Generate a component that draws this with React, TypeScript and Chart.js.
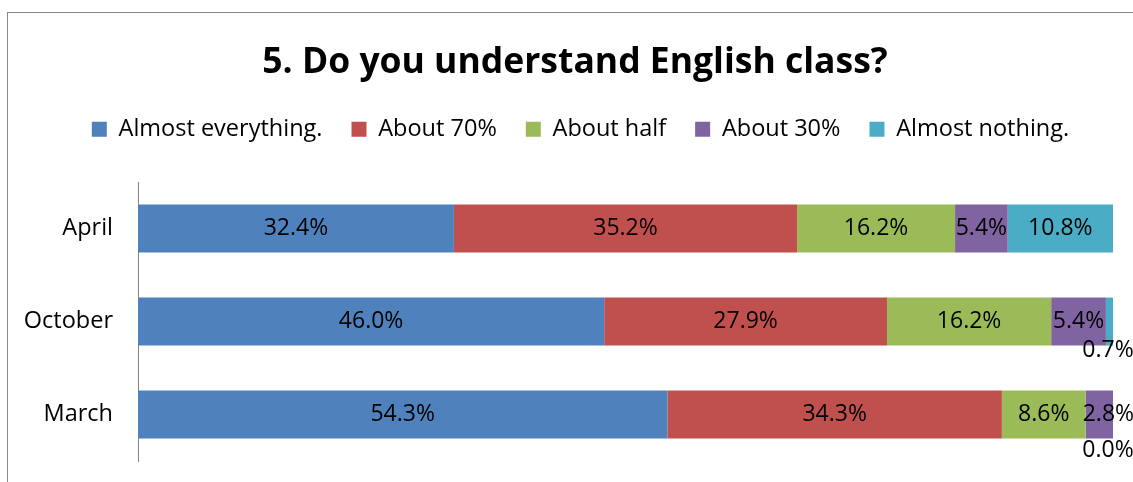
import React, { useEffect, useRef } from "react";
import { Chart, registerables } from "chart.js";

Chart.register(...registerables);

const categories = ["April", "October", "March"];
const seriesNames = ["Almost everything.", "About 70%", "About half", "About 30%", "Almost nothing."];
const almostEverything = [32.4, 46.0, 54.3];
const about70 = [35.2, 27.9, 34.3];
const aboutHalf = [16.2, 16.2, 8.6];
const about30 = [5.4, 5.4, 2.8];
const almostNothing = [10.8, 0.7, 0.0];
const seriesColors = ["#4F81BD", "#C0504D", "#9BBB59", "#8064A2", "#4BACC6"];
const titleText = "5. Do you understand English class?";

const FONT = "'Open Sans', sans-serif";
const seriesValues = [almostEverything, about70, aboutHalf, about30, almostNothing];

const rowTotals = categories.map((_, i) => seriesValues.reduce((s, arr) => s + arr[i], 0));

const labelPlugin = {
  id: "segmentLabels",
  afterDatasetsDraw(chart: any) {
    const ctx = chart.ctx;
    ctx.save();
    ctx.font = `23px ${FONT}`;
    ctx.fillStyle = "#000";
    ctx.textBaseline = "middle";
    ctx.textAlign = "center";
    chart.data.datasets.forEach((ds: any, di: number) => {
      const meta = chart.getDatasetMeta(di);
      meta.data.forEach((bar: any, i: number) => {
        const raw = seriesValues[di][i];
        const text = raw.toFixed(1) + "%";
        const { x, y, base, height } = bar.getProps(["x", "y", "base", "height"], true);
        const left = Math.min(x, base);
        const right = Math.max(x, base);
        const w = right - left;
        const tw = ctx.measureText(text).width;
        let cx = (left + right) / 2;
        let cy = y;
        if (raw < 1) {
          cx = right - 5;
          cy = y + height * (raw === 0 ? 0.75 : 0.6);
        } else if (tw > w) {
          cx = left - 3 + tw / 2;
        }
        ctx.fillText(text, cx, cy);
      });
    });
    ctx.restore();
  },
};

// centre the title and legend over the same span as the original figure
const headerPlugin = {
  id: "headerSpan",
  afterLayout(chart: any) {
    const area = chart.chartArea;
    if (chart.titleBlock) {
      chart.titleBlock.left = 37;
      chart.titleBlock.right = area.right;
    }
    if (chart.legend) {
      chart.legend.left = 40;
      chart.legend.right = area.right + 8;
    }
  },
};

export default function App() {
  const ref = useRef<HTMLCanvasElement | null>(null);
  useEffect(() => {
    if (!ref.current) return;
    const chart = new Chart(ref.current, {
      type: "bar",
      data: {
        labels: categories,
        datasets: seriesNames.map((name, k) => ({
          label: name,
          data: seriesValues[k].map((v, i) => (v / rowTotals[i]) * 100),
          backgroundColor: seriesColors[k],
          borderWidth: 0,
          categoryPercentage: 1,
          barPercentage: 0.516,
        })),
      },
      options: {
        indexAxis: "y",
        responsive: false,
        animation: false,
        devicePixelRatio: 1,
        layout: { padding: { left: 0, right: 20, top: 0, bottom: 21 } },
        plugins: {
          title: {
            display: true,
            text: titleText,
            color: "#000",
            font: { family: FONT, size: 35.5, weight: "bold" },
            padding: { top: 42, bottom: 4 },
          },
          subtitle: {
            display: true,
            text: "",
            weight: 500,
            font: { family: FONT, size: 10, lineHeight: 1 },
            padding: { top: 21, bottom: 0 },
          } as any,
          legend: {
            display: true,
            position: "top",
            labels: {
              boxWidth: 15,
              boxHeight: 15,
              padding: 29,
              color: "#000",
              font: { family: FONT, size: 23.5 },
            },
          },
          tooltip: { enabled: false },
        },
        scales: {
          x: {
            stacked: true,
            display: false,
            min: 0,
            max: 100,
          },
          y: {
            stacked: true,
            afterFit: (scale: any) => {
              scale.width = 138;
              scale.paddingTop = 0;
              scale.paddingBottom = 0;
            },
            grid: { display: false, drawTicks: false },
            border: { display: true, color: "#868686", width: 1 },
            ticks: {
              color: "#000",
              padding: 25,
              font: { family: FONT, size: 23.5 },
            },
          },
        },
      },
      plugins: [labelPlugin, headerPlugin],
    });
    return () => chart.destroy();
  }, []);

  return (
    <>
      <div
        style={{
          position: "fixed",
          left: 7,
          top: 12,
          width: 2000,
          height: 2000,
          borderTop: "1px solid #898989",
          borderLeft: "1px solid #898989",
          boxSizing: "border-box",
        }}
      />
      <canvas
        ref={ref}
        width={1133}
        height={482}
        style={{ position: "fixed", left: 0, top: 0, width: 1133, height: 482 }}
      />
    </>
  );
}
